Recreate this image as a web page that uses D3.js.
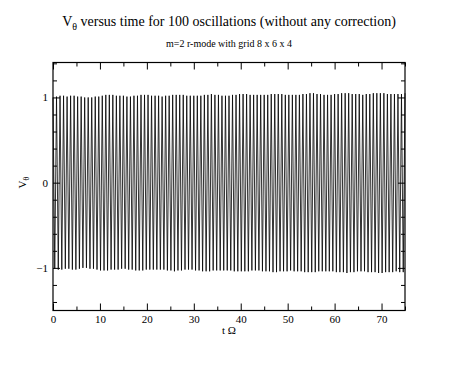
<!DOCTYPE html>
<html>
<head>
<meta charset="utf-8">
<script src="https://cdn.jsdelivr.net/npm/d3@7"></script>
<style>
  body { margin: 0; background: #fff; }
  svg text { font-family: "Liberation Serif", "DejaVu Serif", serif; }
</style>
</head>
<body>
<div id="chart"></div>
<script>
// period of one oscillation in t Omega units (100 oscillations over 75)
var period = 0.75;

// maxima of V_theta, one per oscillation
var peaksUp = [
  1.00, 1.01, 1.02, 1.02, 1.01, 1.02, 1.02, 1.01, 1.01, 1.00,
  1.00, 1.00, 1.01, 1.01, 1.02, 1.03, 1.03, 1.03, 1.02, 1.02,
  1.02, 1.01, 1.01, 1.02, 1.02, 1.03, 1.03, 1.03, 1.02, 1.02,
  1.02, 1.01, 1.02, 1.02, 1.03, 1.03, 1.03, 1.03, 1.02, 1.02,
  1.02, 1.02, 1.02, 1.03, 1.03, 1.04, 1.03, 1.03, 1.02, 1.02,
  1.02, 1.03, 1.03, 1.04, 1.04, 1.04, 1.03, 1.03, 1.03, 1.03,
  1.03, 1.03, 1.04, 1.04, 1.04, 1.04, 1.03, 1.03, 1.03, 1.03,
  1.03, 1.04, 1.04, 1.05, 1.05, 1.04, 1.04, 1.03, 1.03, 1.03,
  1.04, 1.04, 1.05, 1.05, 1.05, 1.04, 1.04, 1.04, 1.03, 1.04,
  1.04, 1.05, 1.05, 1.05, 1.05, 1.04, 1.04, 1.04, 1.04, 1.04,
  1.05
];

// minima of V_theta, one per oscillation
var peaksDown = [
  -1.01, -1.02, -1.02, -1.01, -1.01, -1.02, -1.02, -1.01, -1.00, -1.00,
  -1.01, -1.01, -1.02, -1.03, -1.03, -1.03, -1.02, -1.02, -1.02, -1.01,
  -1.01, -1.02, -1.02, -1.03, -1.03, -1.03, -1.02, -1.02, -1.02, -1.02,
  -1.02, -1.02, -1.03, -1.03, -1.04, -1.03, -1.03, -1.02, -1.02, -1.02,
  -1.03, -1.03, -1.04, -1.04, -1.04, -1.03, -1.03, -1.03, -1.03, -1.03,
  -1.03, -1.04, -1.04, -1.04, -1.04, -1.04, -1.03, -1.03, -1.03, -1.04,
  -1.04, -1.04, -1.05, -1.05, -1.04, -1.04, -1.04, -1.03, -1.04, -1.04,
  -1.04, -1.05, -1.05, -1.05, -1.05, -1.04, -1.04, -1.04, -1.04, -1.04,
  -1.05, -1.05, -1.05, -1.06, -1.05, -1.05, -1.04, -1.04, -1.04, -1.05,
  -1.05, -1.05, -1.06, -1.06, -1.05, -1.05, -1.05, -1.04, -1.05, -1.05
];

var xTicks = [0, 10, 20, 30, 40, 50, 60, 70];
var xMinor = [5, 15, 25, 35, 45, 55, 65, 75];
var yTicks = [-1, 0, 1];
var yMinor = [-1.4, -1.2, -0.8, -0.6, -0.4, -0.2, 0.2, 0.4, 0.6, 0.8, 1.2, 1.4];

var width = 469;
var height = 376;

var margin = {
  top: 62.5,
  left: 53,
  bottom: 65.5,
  right: 64
};

var plotW = width - margin.left - margin.right;
var plotH = height - margin.top - margin.bottom;

var svg = d3
  .select("#chart")
  .append("svg")
  .attr("width", width)
  .attr("height", height);

var x = d3.scaleLinear().domain([0, 75]).range([0, plotW]);
var y = d3.scaleLinear().domain([-1.5, 1.41]).range([plotH, 0]);

// build the zigzag: max, min, max, ... half a period apart
var line_data = [];
peaksUp.forEach(function(v, i) {
  line_data.push({ t: i * period, v: v });
  if (i < peaksDown.length) {
    line_data.push({ t: i * period + period / 2, v: peaksDown[i] });
  }
});

var g = svg
  .append("g")
  .attr("transform", "translate(" + margin.left + "," + margin.top + ")");

var line = d3
  .line()
  .x(function(d) {
    return x(d.t);
  })
  .y(function(d) {
    return y(d.v);
  });

g.append("path")
  .datum(line_data)
  .attr("d", line)
  .attr("fill", "none")
  .attr("stroke", "#000")
  .attr("stroke-width", 0.8);

// frame
g.append("rect")
  .attr("x", 0)
  .attr("y", 0)
  .attr("width", plotW)
  .attr("height", plotH)
  .attr("fill", "none")
  .attr("stroke", "#000")
  .attr("stroke-width", 1.2);

// inward ticks on all four sides
function addAxis(axis, scale, values, size, tx, ty, labels) {
  var a = axis(scale)
    .tickValues(values)
    .tickSizeInner(-size)
    .tickSizeOuter(0)
    .tickPadding(5);
  if (!labels) a.tickFormat("");
  else a.tickFormat(d3.format("d"));
  var ax = g
    .append("g")
    .attr("transform", "translate(" + tx + "," + ty + ")")
    .call(a);
  ax.select(".domain").remove();
  ax.selectAll("line").attr("stroke-width", 1);
  ax.selectAll("text")
    .style("font-size", "11px")
    .style("font-family", "'Liberation Serif', serif")
    .attr("fill", "#000");
  return ax;
}

addAxis(d3.axisBottom, x, xTicks, 7, 0, plotH, true);
addAxis(d3.axisBottom, x, xMinor, 4, 0, plotH, false);
addAxis(d3.axisTop, x, xTicks, 7, 0, 0, false);
addAxis(d3.axisTop, x, xMinor, 4, 0, 0, false);
addAxis(d3.axisLeft, y, yTicks, 7, 0, 0, true);
addAxis(d3.axisLeft, y, yMinor, 4, 0, 0, false);
addAxis(d3.axisRight, y, yTicks, 7, plotW, 0, false);
addAxis(d3.axisRight, y, yMinor, 4, plotW, 0, false);

// titles
var title = svg
  .append("text")
  .attr("x", margin.left + plotW / 2)
  .attr("y", 26)
  .attr("text-anchor", "middle")
  .attr("font-size", "14px");
title.append("tspan").text("V");
title.append("tspan").attr("font-size", "10px").attr("dy", 4).text("θ");
title.append("tspan").attr("dy", -4).text(" versus time for 100 oscillations (without any correction)");

svg
  .append("text")
  .attr("x", margin.left + plotW / 2)
  .attr("y", 47)
  .attr("text-anchor", "middle")
  .attr("font-size", "10px")
  .text("m=2 r-mode with grid 8 x 6 x 4");

svg
  .append("text")
  .attr("x", margin.left + plotW / 2)
  .attr("y", 334)
  .attr("text-anchor", "middle")
  .attr("font-size", "11px")
  .text("t Ω");

var ylab = svg
  .append("text")
  .attr("transform", "translate(26," + (margin.top + y(0)) + ") rotate(-90)")
  .attr("text-anchor", "middle")
  .attr("font-size", "11px");
ylab.append("tspan").text("V");
ylab.append("tspan").attr("font-size", "8px").attr("dy", 3).text("θ");
</script>
</body>
</html>
